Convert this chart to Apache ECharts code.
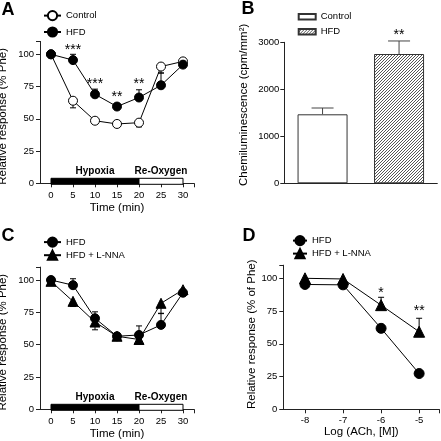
<!DOCTYPE html>
<html><head><meta charset="utf-8">
<script src="https://cdn.jsdelivr.net/npm/echarts@6/dist/echarts.min.js"></script>
<style>html,body{margin:0;padding:0;background:#fff}#c{width:441px;height:441px}</style>
</head><body><div id="c"></div>
<script>
// ---- Panel A ----
const timeA = [0, 5, 10, 15, 20, 25, 30];
const controlA = [100, 64, 48.5, 46, 47, 90.5, 94.5];
const controlA_sem = [0, 5.5, 1, 1, 3.3, 5, 1];
const hfdA = [100, 95.5, 69, 59.5, 66.5, 76, 92];
const hfdA_sem = [0, 4.5, 4, 1, 6, 9.5, 1.5];
const starsA = [[5, 105.6, '***'], [10, 79, '***'], [15, 69, '**'], [20, 79, '**']];
// ---- Panel B ----
const catB = ['Control', 'HFD'];
const chemB = [1468, 2751];
const chemB_sem = [134, 277];
const starsB = [[1, 3220, '**']];
// ---- Panel C ----
const timeC = [0, 5, 10, 15, 20, 25, 30];
const hfdC = [100, 96, 70.4, 56.5, 57.5, 65.3, 90.2];
const hfdC_sem = [0, 5, 5, 1, 7, 9, 1];
const lnnaC = [99, 83.5, 67.5, 56.5, 54, 82, 92.5];
const lnnaC_sem = [1, 4, 6, 1, 2, 8, 1.5];
// ---- Panel D ----
const logD = [-8, -7, -6, -5];
const hfdD = [95.3, 95, 61.8, 27.3];
const hfdD_sem = [1, 1, 2.6, 1];
const lnnaD = [100, 99.5, 79.5, 59.2];
const lnnaD_sem = [0, 0, 6, 10.3];
const starsD = [[-6, 91, '*'], [-5, 77, '**']];
// ---- periods & ticks ----
const periods = [[0, 20, 'Hypoxia'], [20, 30, 'Re-Oxygen']];
const yTicks = [0, 25, 50, 75, 100];
const xTicksT = [0, 5, 10, 15, 20, 25, 30];
const xTicksD = [-8, -7, -6, -5];
const yTicksB = [0, 1000, 2000, 3000];

const F = '"Liberation Sans", Arial, sans-serif';
const AX = '#222';

// hatch pattern (crisp pixel diagonal)
const hc = document.createElement('canvas');
hc.width = 3; hc.height = 3;
const hctx = hc.getContext('2d');
hctx.fillStyle = '#fff'; hctx.fillRect(0, 0, 3, 3);
hctx.fillStyle = '#555';
for (let i = 0; i < 3; i++) hctx.fillRect(i, 2 - i, 1, 1);
const hatch = { image: hc, repeat: 'repeat' };

function valAxis(gi, min, max, labelVals, tickVals, name, gap, margin, opts) {
  opts = opts || {};
  return {
    type: 'value', gridIndex: gi, min, max, name, nameLocation: 'middle', nameGap: gap,
    nameTextStyle: Object.assign({ color: '#000', fontSize: 11.5, fontFamily: F }, opts.nameStyle || {}),
    axisLine: { show: true, onZero: false, lineStyle: { color: AX, width: 1 } },
    axisTick: { show: true, length: 4, customValues: tickVals, lineStyle: { color: AX } },
    axisLabel: { customValues: labelVals, color: '#000', fontSize: opts.fs || 9.5, fontFamily: F, margin, formatter: v => String(v) },
    splitLine: { show: false }
  };
}

function lineSeries(name, gi, xs, ys, symbol, size, fill) {
  return {
    type: 'line', name, xAxisIndex: gi, yAxisIndex: gi,
    data: xs.map((x, i) => [x, ys[i]]),
    symbol, symbolSize: size, showSymbol: true, showAllSymbol: true, z: 3,
    itemStyle: { color: fill, borderColor: '#000', borderWidth: 1 },
    lineStyle: { color: '#000', width: 1 },
    emphasis: { disabled: true }, silent: true, animation: false
  };
}

function errSeries(gi, xs, ys, sems, dir, capW, color) {
  return {
    type: 'custom', xAxisIndex: gi, yAxisIndex: gi, z: 2, silent: true, clip: false,
    data: xs.map((x, i) => [x, ys[i], ys[i] + dir * sems[i]]),
    renderItem(params, api) {
      const p0 = api.coord([api.value(0), api.value(1)]);
      const p1 = api.coord([api.value(0), api.value(2)]);
      if (Math.abs(p1[1] - p0[1]) < 0.5) return;
      return {
        type: 'group', children: [
          { type: 'line', shape: { x1: p0[0], y1: p0[1], x2: p1[0], y2: p1[1] }, style: { stroke: color, lineWidth: 1 } },
          { type: 'line', shape: { x1: p1[0] - capW / 2, y1: p1[1], x2: p1[0] + capW / 2, y2: p1[1] }, style: { stroke: color, lineWidth: 1 } }
        ]
      };
    }
  };
}

function starSeries(gi, stars, size) {
  return {
    type: 'custom', xAxisIndex: gi, yAxisIndex: gi, z: 5, silent: true, clip: false,
    data: stars.map(s => [s[0], s[1]]),
    renderItem(params, api) {
      const p = api.coord([api.value(0), api.value(1)]);
      return { type: 'text', style: { text: stars[params.dataIndex][2], x: p[0], y: p[1] + 3, align: 'center', verticalAlign: 'middle', font: size + 'px ' + F, fill: '#000' } };
    }
  };
}

function periodSeries(gi) {
  return {
    type: 'custom', xAxisIndex: gi, yAxisIndex: gi, z: 4, silent: true, clip: false,
    data: periods.map(p => [p[0], p[1]]),
    renderItem(params, api) {
      const a = api.coord([api.value(0), 0]);
      const b = api.coord([api.value(1), 0]);
      const filled = params.dataIndex === 0;
      return {
        type: 'group', children: [
          { type: 'rect', shape: { x: a[0], y: a[1] - 5, width: b[0] - a[0], height: 6 }, style: { fill: filled ? '#000' : '#fff', stroke: '#000', lineWidth: 1 } },
          { type: 'text', style: { text: periods[params.dataIndex][2], x: (a[0] + b[0]) / 2, y: a[1] - 12, align: 'center', verticalAlign: 'middle', font: 'bold 10px ' + F, fill: '#000' } }
        ]
      };
    }
  };
}

const legTxt = { fontSize: 9.5, fontFamily: F, color: '#000', lineHeight: 10 };
const fmt = n => n.split(':')[1];
const titleStyle = { fontSize: 18, fontWeight: 'bold', fontFamily: F, color: '#000' };

const option = {
  animation: false,
  backgroundColor: '#fff',
  title: [
    { text: 'A', left: 1.5, top: 1, padding: 0, textStyle: titleStyle },
    { text: 'B', left: 241.5, top: 0.5, padding: 0, textStyle: titleStyle },
    { text: 'C', left: 1.5, top: 227, padding: 0, textStyle: titleStyle },
    { text: 'D', left: 242.5, top: 227, padding: 0, textStyle: titleStyle }
  ],
  legend: [
    { left: 43, top: 10, padding: 0, orient: 'vertical', itemWidth: 17, itemHeight: 11.5, itemGap: 5.2, selectedMode: false, data: ['A:Control', 'A:HFD'], formatter: fmt, textStyle: legTxt },
    { left: 297.7, top: 11.7, padding: 0, orient: 'vertical', itemWidth: 17, itemHeight: 5.5, itemGap: 5, icon: 'rect', selectedMode: false, data: ['B:Control', 'B:HFD'], formatter: fmt, textStyle: legTxt },
    { left: 43, top: 236.5, padding: 0, orient: 'vertical', itemWidth: 17, itemHeight: 11.5, itemGap: 1.9, selectedMode: false, data: ['C:HFD', 'C:HFD + L-NNA'], formatter: fmt, textStyle: legTxt },
    { left: 292, top: 235, padding: 0, orient: 'vertical', itemWidth: 14, itemHeight: 11.5, itemGap: 1.8, selectedMode: false, data: ['D:HFD', 'D:HFD + L-NNA'], formatter: fmt, textStyle: legTxt }
  ],
  grid: [
    { left: 40, top: 41.4, width: 154, height: 141.9, outerBoundsMode: 'none' },
    { left: 284.3, top: 42.3, width: 153, height: 141, outerBoundsMode: 'none' },
    { left: 40, top: 267.1, width: 154, height: 142.2, outerBoundsMode: 'none' },
    { left: 283.3, top: 265.2, width: 156, height: 144.1, outerBoundsMode: 'none' }
  ],
  xAxis: [
    valAxis(0, -2.5, 32.5, xTicksT, xTicksT.concat([32.5]), 'Time (min)', 19, 7),
    {
      type: 'category', gridIndex: 1, data: catB,
      axisLine: { show: true, lineStyle: { color: AX, width: 1 } },
      axisTick: { show: false }, axisLabel: { show: false }, splitLine: { show: false }
    },
    valAxis(2, -2.5, 32.5, xTicksT, xTicksT.concat([32.5]), 'Time (min)', 19, 7),
    valAxis(3, -8.57, -4.47, xTicksD, xTicksD.concat([-4.47]), 'Log (ACh, [M])', 13.5, 6)
  ],
  yAxis: [
    valAxis(0, 0, 110, yTicks, yTicks.concat([110]), 'Relative response (% Phe)', 31, 6, { nameStyle: { padding: [0, 8, 0, 0] } }),
    valAxis(1, 0, 3000, yTicksB, yTicksB, 'Chemiluminescence (cpm/mm²)', 34, 5, { nameStyle: { padding: [0, 0, 0, 16] } }),
    valAxis(2, 0, 110, yTicks, yTicks.concat([110]), 'Relative response (% Phe)', 31, 6, { nameStyle: { padding: [0, 8, 0, 0] } }),
    valAxis(3, 0, 110, yTicks, yTicks.concat([110]), 'Relative response (% of Phe)', 25, 6, { nameStyle: { padding: [0, 0, 0, 6] } })
  ],
  series: [
    // A
    periodSeries(0),
    errSeries(0, timeA, controlA, controlA_sem, -1, 6, '#000'),
    errSeries(0, timeA, hfdA, hfdA_sem, 1, 6, '#000'),
    lineSeries('A:Control', 0, timeA, controlA, 'circle', 9, '#fff'),
    lineSeries('A:HFD', 0, timeA, hfdA, 'circle', 9, '#000'),
    starSeries(0, starsA, 14),
    // B
    {
      type: 'bar', name: 'B:Control', xAxisIndex: 1, yAxisIndex: 1, barWidth: 50, barGap: '-100%',
      data: [chemB[0], '-'], itemStyle: { color: '#fff', borderColor: '#333', borderWidth: 1 }, silent: true, z: 3
    },
    {
      type: 'bar', name: 'B:HFD', xAxisIndex: 1, yAxisIndex: 1, barWidth: 50, barGap: '-100%',
      data: ['-', chemB[1]], itemStyle: { color: hatch, borderColor: '#333', borderWidth: 1 }, silent: true, z: 3
    },
    errSeries(1, [0, 1], chemB, chemB_sem, 1, 22, '#444'),
    starSeries(1, starsB, 14),
    // C
    periodSeries(2),
    errSeries(2, timeC, hfdC, hfdC_sem, 1, 6, '#000'),
    errSeries(2, timeC, lnnaC, lnnaC_sem, -1, 6, '#000'),
    lineSeries('C:HFD + L-NNA', 2, timeC, lnnaC, 'triangle', 10, '#000'),
    lineSeries('C:HFD', 2, timeC, hfdC, 'circle', 9, '#000'),
    // D
    errSeries(3, logD, hfdD, hfdD_sem, -1, 6, '#000'),
    errSeries(3, logD, lnnaD, lnnaD_sem, 1, 6, '#000'),
    lineSeries('D:HFD', 3, logD, hfdD, 'circle', 10, '#000'),
    lineSeries('D:HFD + L-NNA', 3, logD, lnnaD, 'triangle', 11, '#000'),
    starSeries(3, starsD, 14)
  ]
};

const chart = echarts.init(document.getElementById('c'), null, { renderer: 'canvas' });
chart.setOption(option);
</script>
</body></html>
